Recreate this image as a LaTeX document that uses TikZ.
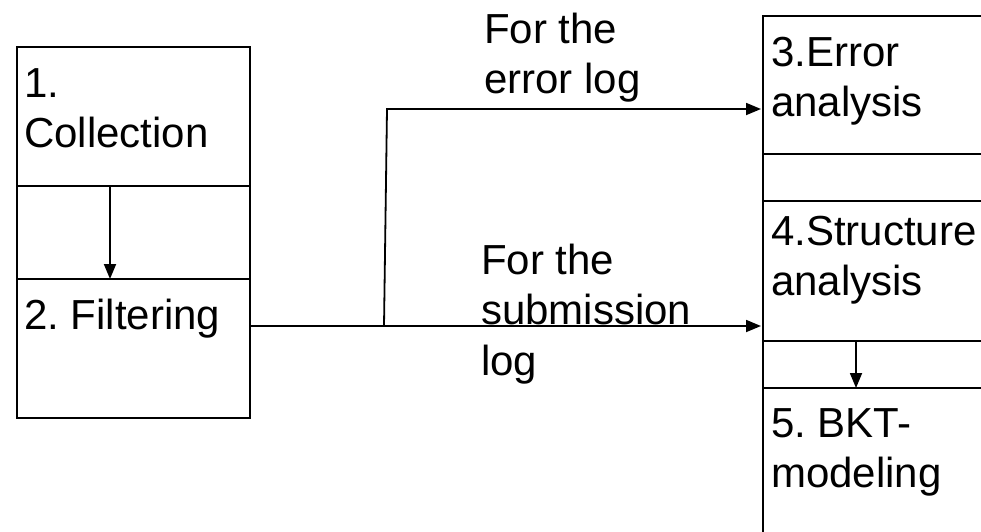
\documentclass[tikz,border=0pt]{standalone}
\usepackage{fontspec}
\setmainfont{Liberation Sans}
\usetikzlibrary{arrows.meta}
\frenchspacing

% two lines of text whose baseline is that of the first line
\newcommand{\twoline}[2]{\vtop{\hbox{#1}\hbox{#2}}}
\newcommand{\threeline}[3]{\vtop{\hbox{#1}\hbox{#2}\hbox{#3}}}

\tikzset{
  frame/.style={draw, line width=2pt, inner sep=0pt, anchor=north west},
  divider/.style={line width=1.6pt},
  flow/.style={line width=1.8pt, -{Triangle[length=15pt,width=12pt]}},
  lbl/.style={anchor=base west, inner sep=0pt},
}

\begin{document}
\begin{tikzpicture}[x=1pt, y=-1pt, font=\fontsize{42}{50.5}\selectfont]
\useasboundingbox (0,0) rectangle (981,531);
\clip (0,0) rectangle (981,531);

% left column: collection and filtering
\node[frame, minimum width=233pt, minimum height=371pt] (leftbox) at (16,46) {};
\coordinate (ldivA-w) at (16,186);  \coordinate (ldivA-e) at (249,186);
\coordinate (ldivB-w) at (16,279);  \coordinate (ldivB-e) at (249,279);
\draw[divider] (ldivA-w) -- (ldivA-e);
\draw[divider] (ldivB-w) -- (ldivB-e);

\node[lbl] (collect) at (24,97) {\twoline{1.}{Collection}};
\node[lbl] (filter) at (24,329) {2. Filtering};

\coordinate (collect-out) at (110,186);
\coordinate (filter-in) at (110,279);
\draw[flow] (collect-out) -- (filter-in);

% right column: analyses and modeling (runs past the page edge)
\node[frame, minimum width=260pt, minimum height=560pt] (rightbox) at (762,15) {};
\foreach \y/\n in {154/rA, 201/rB, 341/rC, 388/rD}{
  \coordinate (\n-w) at (762,\y);
  \coordinate (\n-e) at (990,\y);
  \draw[divider] (\n-w) -- (\n-e);
}

\node[lbl] (error) at (771,66) {\twoline{3.Error}{analysis}};
\node[lbl] (struct) at (771,245) {\twoline{4.Structure}{analysis}};
\node[lbl] (bkt) at (771,437) {\twoline{5. BKT-}{modeling}};

\coordinate (struct-out) at (856,341);
\coordinate (bkt-in) at (856,388);
\draw[flow] (struct-out) -- (bkt-in);

% routing of the filtered logs
\coordinate (filter-out) at (249,326);
\coordinate (split) at (384,326);
\coordinate (bend) at (387,109);
\coordinate (error-in) at (761,109);
\coordinate (struct-in) at (761,326);
\draw[flow] (filter-out) -- (struct-in);
\draw[flow] (split) -- (bend) -- (error-in);

\node[lbl] (errlabel) at (484,43) {\twoline{For the}{error log}};
\node[lbl] (sublabel) at (481,274) {\threeline{For the}{submission}{log}};
\end{tikzpicture}
\end{document}
